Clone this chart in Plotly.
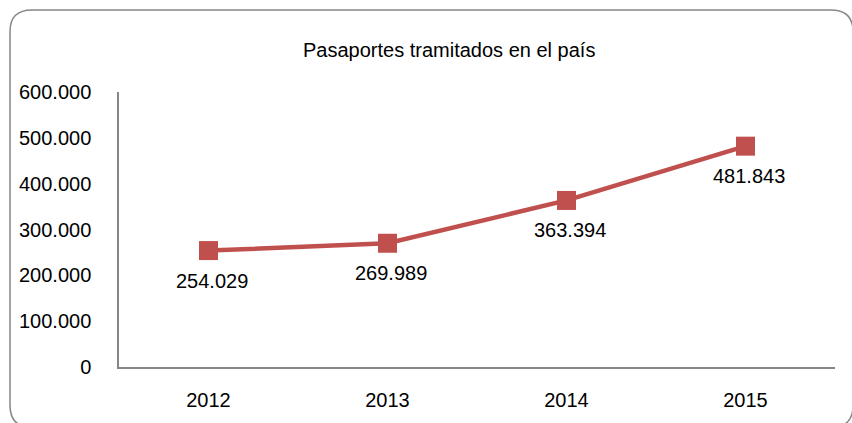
import plotly.graph_objects as go

years = ["2012", "2013", "2014", "2015"]
passports = [254029, 269989, 363394, 481843]
label_texts = ["254.029", "269.989", "363.394", "481.843"]
y_tick_vals = [0, 100000, 200000, 300000, 400000, 500000, 600000]
y_tick_text = ["0", "100.000", "200.000", "300.000", "400.000", "500.000", "600.000"]
title_text = "Pasaportes tramitados en el país"

W, H = 852, 423
ML, MR, MT, MB = 119, 17, 92, 53
PW, PH = W - ML - MR, H - MT - MB

FONT = "Liberation Sans, Arial, sans-serif"
RED = "#C0504D"
FS = 20

def px(x):
    return (x - ML) / PW

def py(y):
    return (H - MB - y) / PH

fig = go.Figure()
fig.add_trace(go.Scatter(
    x=years, y=passports, mode="lines+markers",
    line=dict(color=RED, width=4.5),
    marker=dict(symbol="square", size=19, color=RED),
    cliponaxis=False, hoverinfo="skip",
))

# data labels below each point (x = category index on the category axis)
for i, (val, lab) in enumerate(zip(passports, label_texts)):
    fig.add_annotation(x=i, y=val, xref="x", yref="y", text=lab, showarrow=False,
                       xanchor="center", yanchor="middle", yshift=-30, xshift=3,
                       font=dict(family=FONT, size=FS, color="#000000"))

# rounded chart frame (pixel coords converted to paper coords)
x0, x1, y0, y1, r = 10, 853, 9, 431, 22
rx, ry = r / PW, r / PH
L, R, T, B = px(x0), px(x1), py(y0), py(y1)
path = (f"M {L},{T-ry} Q {L},{T} {L+rx},{T} L {R-rx},{T} Q {R},{T} {R},{T-ry} "
        f"L {R},{B+ry} Q {R},{B} {R-rx},{B} L {L+rx},{B} Q {L},{B} {L},{B+ry} Z")
fig.add_shape(type="path", path=path, xref="paper", yref="paper",
              line=dict(color="#868686", width=1.5), layer="below")

fig.add_annotation(text=title_text, xref="paper", yref="paper",
                   x=px(448.5), y=py(50), xanchor="center", yanchor="middle",
                   showarrow=False, font=dict(family=FONT, size=20, color="#000000"))

fig.update_layout(
    width=W, height=H,
    margin=dict(l=ML, r=MR, t=MT, b=MB),
    paper_bgcolor="white", plot_bgcolor="white",
    showlegend=False,
    font=dict(family=FONT, size=FS, color="#000000"),
    xaxis=dict(type="category", showgrid=False, zeroline=False,
               showline=True, linecolor="#868686", linewidth=1.5,
               ticks="", ticklabelstandoff=14, range=[-0.5, 3.5],
               tickfont=dict(family=FONT, size=FS, color="#000000")),
    yaxis=dict(range=[0, 600000], tickvals=y_tick_vals, ticktext=y_tick_text,
               showgrid=False, zeroline=False,
               showline=True, linecolor="#868686", linewidth=1.5,
               ticks="", ticklabelstandoff=22,
               tickfont=dict(family=FONT, size=FS, color="#000000")),
)

fig.write_html("out.html", config={"displayModeBar": False},
               post_script="document.body.style.margin='0px';")
